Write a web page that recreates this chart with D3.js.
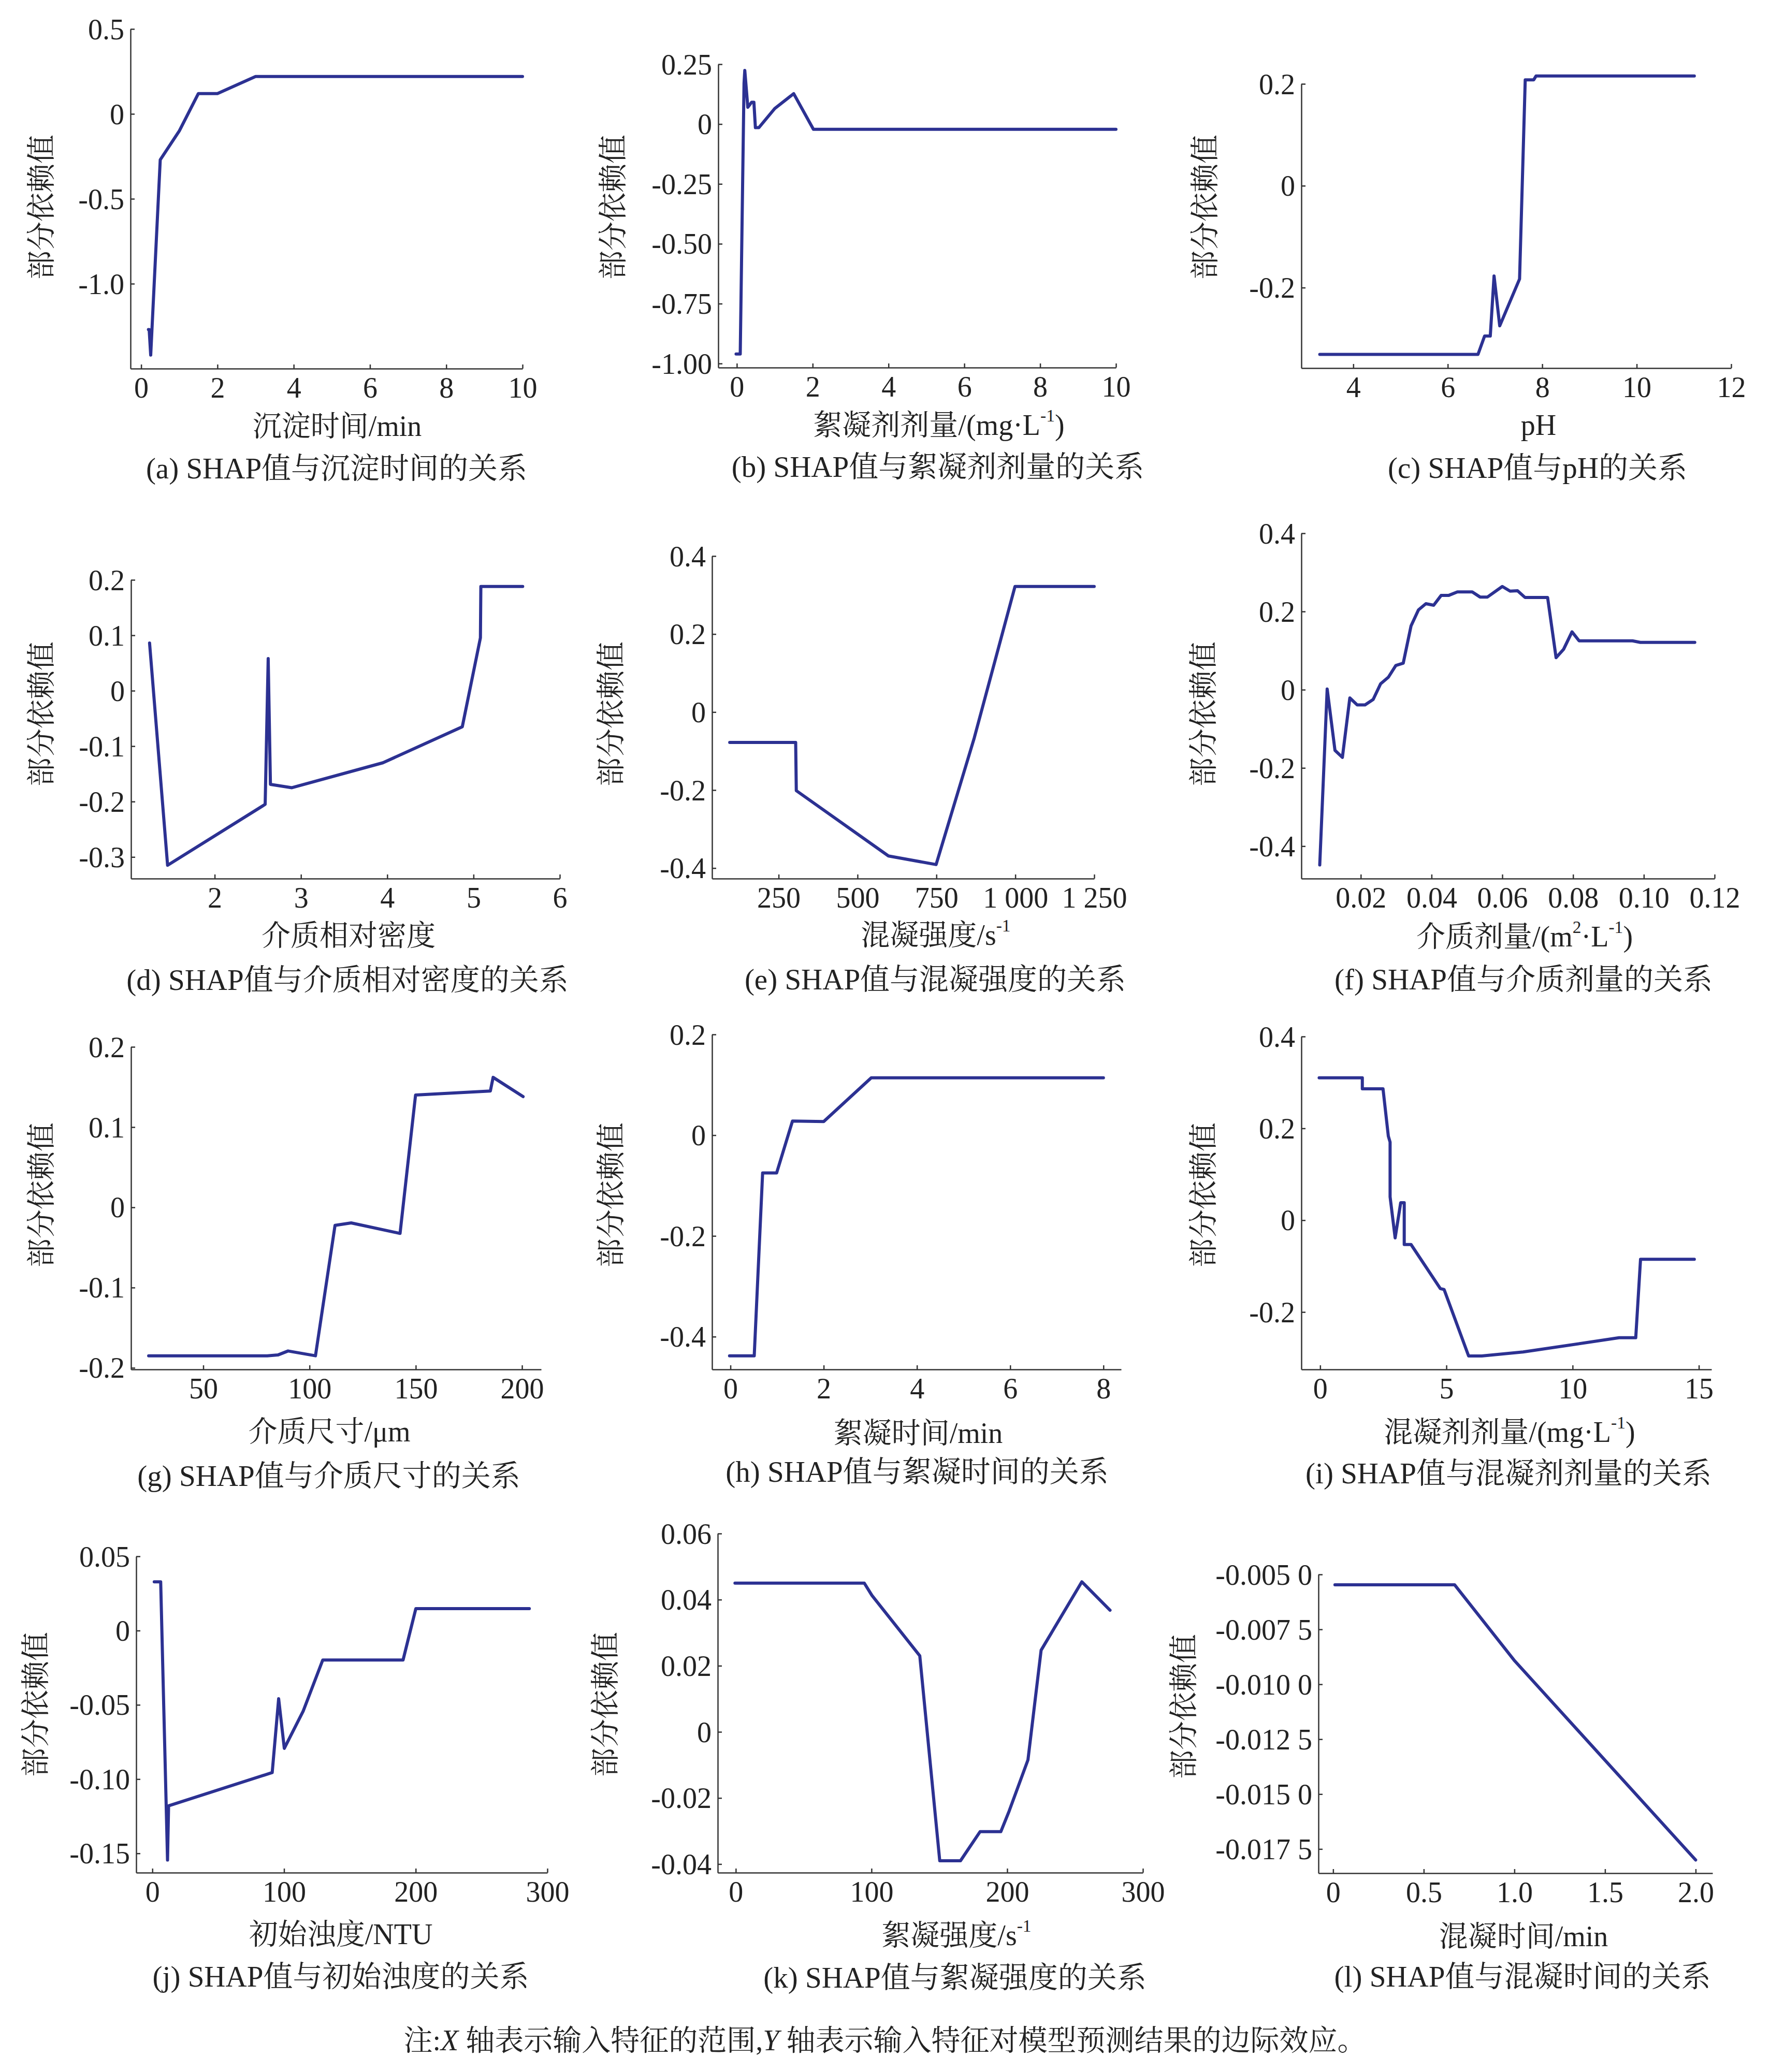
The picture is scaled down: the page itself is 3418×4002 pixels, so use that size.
<!DOCTYPE html>
<html><head><meta charset="utf-8">
<script src="https://cdn.jsdelivr.net/npm/d3@7/dist/d3.min.js"></script>
<style>
html,body{margin:0;padding:0;background:#fff;}
svg text{font-family:"Liberation Serif","Times New Roman","Noto Serif CJK SC","Noto Sans CJK SC",serif;fill:#222;}
</style></head><body>
<svg id="c" width="3418" height="4002"></svg>
<script>
// ---------------- data ----------------
const yLabelText = "部分依赖值";

const xA = [0.19, 0.21, 0.25, 0.5, 1.0, 1.5, 2.0, 3.0, 10];
const yA = [-1.27, -1.27, -1.42, -0.27, -0.10, 0.12, 0.12, 0.22, 0.22];
const xTicksA = [0, 2, 4, 6, 8, 10], xTickLabelsA = ["0","2","4","6","8","10"];
const yTicksA = [0.5, 0, -0.5, -1.0], yTickLabelsA = ["0.5","0","-0.5","-1.0"];

const xB = [-0.02, 0.09, 0.19, 0.21, 0.29, 0.39, 0.45, 0.49, 0.58, 1.0, 1.5, 2.02, 10];
const yB = [-0.96, -0.96, 0.17, 0.224, 0.07, 0.091, 0.091, -0.015, -0.015, 0.065, 0.127, -0.022, -0.022];
const xTicksB = [0, 2, 4, 6, 8, 10], xTickLabelsB = ["0","2","4","6","8","10"];
const yTicksB = [0.25, 0, -0.25, -0.5, -0.75, -1.0], yTickLabelsB = ["0.25","0","-0.25","-0.50","-0.75","-1.00"];

const xC = [3.29, 6.64, 6.78, 6.9, 6.98, 7.1, 7.52, 7.64, 7.82, 7.87, 11.22];
const yC = [-0.331, -0.331, -0.295, -0.295, -0.177, -0.275, -0.183, 0.208, 0.208, 0.2156, 0.2156];
const xTicksC = [4, 6, 8, 10, 12], xTickLabelsC = ["4","6","8","10","12"];
const yTicksC = [0.2, 0, -0.2], yTickLabelsC = ["0.2","0","-0.2"];

const xD = [1.245, 1.454, 2.585, 2.62, 2.646, 2.895, 3.95, 4.87, 5.08, 5.085, 5.57];
const yD = [0.086, -0.315, -0.205, 0.058, -0.169, -0.175, -0.130, -0.065, 0.0955, 0.188, 0.188];
const xTicksD = [2, 3, 4, 5, 6], xTickLabelsD = ["2","3","4","5","6"];
const yTicksD = [0.2, 0.1, 0, -0.1, -0.2, -0.3], yTickLabelsD = ["0.2","0.1","0","-0.1","-0.2","-0.3"];

const xE = [95, 304, 306, 598, 749, 870, 999, 1250];
const yE = [-0.078, -0.078, -0.2015, -0.369, -0.391, -0.066, 0.322, 0.322];
const xTicksE = [250, 500, 750, 1000, 1250], xTickLabelsE = ["250","500","750","1 000","1 250"];
const yTicksE = [0.4, 0.2, 0, -0.2, -0.4], yTickLabelsE = ["0.4","0.2","0","-0.2","-0.4"];

const xF = [0.0084,0.0105,0.0127,0.0148,0.0169,0.019,0.0212,0.0235,0.0256,0.0278,0.0299,0.032,0.0342,0.0363,0.0384,0.0406,0.0427,0.0448,0.0473,0.0515,0.0537,0.0558,0.06,0.0622,0.0643,0.0664,0.0728,0.0752,0.0773,0.0797,0.0817,0.0968,0.099,0.1144];
const yF = [-0.448,0.002,-0.155,-0.173,-0.021,-0.039,-0.039,-0.025,0.015,0.032,0.062,0.068,0.163,0.204,0.220,0.216,0.241,0.241,0.25,0.25,0.237,0.237,0.264,0.252,0.253,0.236,0.236,0.082,0.103,0.148,0.125,0.125,0.121,0.121];
const xTicksF = [0.02, 0.04, 0.06, 0.08, 0.10, 0.12], xTickLabelsF = ["0.02","0.04","0.06","0.08","0.10","0.12"];
const yTicksF = [0.4, 0.2, 0, -0.2, -0.4], yTickLabelsF = ["0.4","0.2","0","-0.2","-0.4"];

const xG = [24.3, 80.1, 85.1, 89.9, 102.8, 112, 119.6, 142.6, 149.9, 185.1, 186.4, 200.5];
const yG = [-0.185, -0.185, -0.184, -0.179, -0.185, -0.0225, -0.0194, -0.0325, 0.140, 0.145, 0.162, 0.138];
const xTicksG = [50, 100, 150, 200], xTickLabelsG = ["50","100","150","200"];
const yTicksG = [0.2, 0.1, 0, -0.1, -0.2], yTickLabelsG = ["0.2","0.1","0","-0.1","-0.2"];

const xH = [-0.02, 0.51, 0.69, 0.99, 1.33, 2.0, 3.02, 8.0];
const yH = [-0.438, -0.438, -0.075, -0.075, 0.028, 0.027, 0.114, 0.114];
const xTicksH = [0, 2, 4, 6, 8], xTickLabelsH = ["0","2","4","6","8"];
const yTicksH = [0.2, 0, -0.2, -0.4], yTickLabelsH = ["0.2","0","-0.2","-0.4"];

const xI = [-0.04,1.67,1.67,2.49,2.7,2.77,2.77,2.97,3.19,3.33,3.33,3.6,4.76,4.91,5.88,6.4,8.04,11.84,12.5,12.69,14.82];
const yI = [0.31,0.31,0.286,0.286,0.183,0.17,0.051,-0.0386,0.038,0.038,-0.053,-0.053,-0.149,-0.151,-0.2956,-0.2956,-0.287,-0.256,-0.256,-0.085,-0.085];
const xTicksI = [0, 5, 10, 15], xTickLabelsI = ["0","5","10","15"];
const yTicksI = [0.4, 0.2, 0, -0.2], yTickLabelsI = ["0.4","0.2","0","-0.2"];

const xJ = [1.4, 6.3, 11.5, 12.3, 91, 95.9, 100.2, 114.5, 129.4, 190.4, 200.1, 286.3];
const yJ = [0.0328, 0.0328, -0.1545, -0.118, -0.0956, -0.0459, -0.0793, -0.0543, -0.0198, -0.0198, 0.0148, 0.0148];
const xTicksJ = [0, 100, 200, 300], xTickLabelsJ = ["0","100","200","300"];
const yTicksJ = [0.05, 0, -0.05, -0.10, -0.15], yTickLabelsJ = ["0.05","0","-0.05","-0.10","-0.15"];

const xK = [-0.6, 94.7, 100.3, 135.6, 150.3, 165.6, 180, 195.3, 201.4, 215.3, 225, 255, 275.8];
const yK = [0.045, 0.045, 0.0413, 0.023, -0.039, -0.039, -0.0302, -0.0302, -0.024, -0.0085, 0.0247, 0.0454, 0.0368];
const xTicksK = [0, 100, 200, 300], xTickLabelsK = ["0","100","200","300"];
const yTicksK = [0.06, 0.04, 0.02, 0, -0.02, -0.04], yTickLabelsK = ["0.06","0.04","0.02","0","-0.02","-0.04"];

const xL = [0.01, 0.67, 0.998, 2.0];
const yL = [-0.00547, -0.00547, -0.0089, -0.0180];
const xTicksL = [0, 0.5, 1.0, 1.5, 2.0], xTickLabelsL = ["0","0.5","1.0","1.5","2.0"];
const yTicksL = [-0.005, -0.0075, -0.01, -0.0125, -0.015, -0.0175], yTickLabelsL = ["-0.005 0","-0.007 5","-0.010 0","-0.012 5","-0.015 0","-0.017 5"];

const xLabels = [
  [["沉淀时间/min"]],
  [["絮凝剂剂量/(mg·L"],["-1",1],[")"]],
  [["pH"]],
  [["介质相对密度"]],
  [["混凝强度/s"],["-1",1]],
  [["介质剂量/(m"],["2",1],["·L"],["-1",1],[")"]],
  [["介质尺寸/μm"]],
  [["絮凝时间/min"]],
  [["混凝剂剂量/(mg·L"],["-1",1],[")"]],
  [["初始浊度/NTU"]],
  [["絮凝强度/s"],["-1",1]],
  [["混凝时间/min"]]
];
const captions = [
  "(a) SHAP值与沉淀时间的关系","(b) SHAP值与絮凝剂剂量的关系","(c) SHAP值与pH的关系",
  "(d) SHAP值与介质相对密度的关系","(e) SHAP值与混凝强度的关系","(f) SHAP值与介质剂量的关系",
  "(g) SHAP值与介质尺寸的关系","(h) SHAP值与絮凝时间的关系","(i) SHAP值与混凝剂剂量的关系",
  "(j) SHAP值与初始浊度的关系","(k) SHAP值与絮凝强度的关系","(l) SHAP值与混凝时间的关系"
];

// ---------------- layout ----------------
// box: [left, right, top, bottom]; lab: [axisLabelX, axisLabelY, captionX, captionY, yLabelX, yLabelY]
const layout = [
  {xs:xA, ys:yA, xt:xTicksA, xtl:xTickLabelsA, yt:yTicksA, ytl:yTickLabelsA, xd:[-0.28,10], yd:[-1.5,0.5], box:[252,1009,56,712], lab:[651,823,650,904,80,400]},
  {xs:xB, ys:yB, xt:xTicksB, xtl:xTickLabelsB, yt:yTicksB, ytl:yTickLabelsB, xd:[-0.49,10], yd:[-1.017,0.25], box:[1387,2155,124,710], lab:[1813,821,1811,901,1184,400]},
  {xs:xC, ys:yC, xt:xTicksC, xtl:xTickLabelsC, yt:yTicksC, ytl:yTickLabelsC, xd:[2.9,12], yd:[-0.358,0.2], box:[2513,3343,162,711], lab:[2971,821,2969,903,2327,400]},
  {xs:xD, ys:yD, xt:xTicksD, xtl:xTickLabelsD, yt:yTicksD, ytl:yTickLabelsD, xd:[1.03,6], yd:[-0.339,0.2], box:[253,1081,1120,1697], lab:[673,1807,671,1892,80,1379]},
  {xs:xE, ys:yE, xt:xTicksE, xtl:xTickLabelsE, yt:yTicksE, ytl:yTickLabelsE, xd:[39,1250], yd:[-0.427,0.4], box:[1375,2113,1074,1697], lab:[1807,1806,1806,1891,1180,1379]},
  {xs:xF, ys:yF, xt:xTicksF, xtl:xTickLabelsF, yt:yTicksF, ytl:yTickLabelsF, xd:[0.0032,0.12], yd:[-0.483,0.4], box:[2513,3311,1030,1697], lab:[2944,1809,2942,1891,2324,1379]},
  {xs:xG, ys:yG, xt:xTicksG, xtl:xTickLabelsG, yt:yTicksG, ytl:yTickLabelsG, xd:[16,209], yd:[-0.202,0.2], box:[253,1045,2022,2645], lab:[636,2765,635,2850,80,2308]},
  {xs:xH, ys:yH, xt:xTicksH, xtl:xTickLabelsH, yt:yTicksH, ytl:yTickLabelsH, xd:[-0.395,8.38], yd:[-0.465,0.2], box:[1375,2165,1998,2645], lab:[1773,2768,1771,2842,1180,2308]},
  {xs:xI, ys:yI, xt:xTicksI, xtl:xTickLabelsI, yt:yTicksI, ytl:yTickLabelsI, xd:[-0.745,15.5], yd:[-0.325,0.4], box:[2513,3305,2002,2645], lab:[2915,2766,2913,2845,2324,2308]},
  {xs:xJ, ys:yJ, xt:xTicksJ, xtl:xTickLabelsJ, yt:yTicksJ, ytl:yTickLabelsJ, xd:[-12.3,300], yd:[-0.163,0.05], box:[263,1057,3006,3617], lab:[658,3736,658,3817,69,3292]},
  {xs:xK, ys:yK, xt:xTicksK, xtl:xTickLabelsK, yt:yTicksK, ytl:yTickLabelsK, xd:[-13.3,300], yd:[-0.0426,0.06], box:[1386,2207,2962,3617], lab:[1847,3738,1844,3819,1169,3292]},
  {xs:xL, ys:yL, xt:xTicksL, xtl:xTickLabelsL, yt:yTicksL, ytl:yTickLabelsL, xd:[-0.081,2.093], yd:[-0.0186,-0.005], box:[2546,3307,3041,3618], lab:[2942,3740,2940,3817,2286,3296]}
];

const FS = 56, LINE = "#2c3192", AX = "#333";
const svg = d3.select("#c");

layout.forEach((p, i) => {
  const g = svg.append("g");
  const x = d3.scaleLinear().domain(p.xd).range([p.box[0], p.box[1]]);
  const y = d3.scaleLinear().domain(p.yd).range([p.box[3], p.box[2]]);

  const gx = g.append("g").attr("transform", `translate(0,${p.box[3]})`)
    .call(d3.axisBottom(x).tickValues(p.xt).tickFormat((d, k) => p.xtl[k]).tickSizeInner(-8).tickSizeOuter(0).tickPadding(0));
  gx.attr("font-size", FS).attr("font-family", null);
  gx.selectAll("text").attr("y", 36).attr("dy", "0.35em");

  const gy = g.append("g").attr("transform", `translate(${p.box[0]},0)`)
    .call(d3.axisLeft(y).tickValues(p.yt).tickFormat((d, k) => p.ytl[k]).tickSizeInner(-8).tickSizeOuter(0).tickPadding(12));
  gy.attr("font-size", FS).attr("font-family", null);
  gy.selectAll("text").attr("dy", "0.34em");

  [gx, gy].forEach(a => {
    a.select(".domain").attr("stroke", AX).attr("stroke-width", 2.5);
    a.selectAll(".tick line").attr("stroke", AX).attr("stroke-width", 2.5);
  });

  const line = d3.line().x(d => x(d[0])).y(d => y(d[1]));
  g.append("path").datum(d3.zip(p.xs, p.ys)).attr("d", line)
    .attr("fill", "none").attr("stroke", LINE).attr("stroke-width", 6)
    .attr("stroke-linejoin", "round").attr("stroke-linecap", "round");

  // x axis label
  const t = g.append("text").attr("x", p.lab[0]).attr("y", p.lab[1]).attr("text-anchor", "middle")
    .attr("dominant-baseline", "central").attr("font-size", FS);
  xLabels[i].forEach(seg => {
    const ts = t.append("tspan").text(seg[0]);
    if (seg[1]) ts.attr("font-size", FS * 0.6).attr("baseline-shift", "super");
  });

  // caption
  g.append("text").attr("x", p.lab[2]).attr("y", p.lab[3]).attr("text-anchor", "middle")
    .attr("dominant-baseline", "central").attr("font-size", 57).text(captions[i]);

  // y label
  g.append("text").attr("transform", `translate(${p.lab[4]},${p.lab[5]}) rotate(-90)`)
    .attr("text-anchor", "middle").attr("dominant-baseline", "central").attr("font-size", FS).text(yLabelText);
});

// footnote
const fn = svg.append("text").attr("x", 1709).attr("y", 3941).attr("text-anchor", "middle")
  .attr("dominant-baseline", "central").attr("font-size", 56);
fn.append("tspan").text("注:");
fn.append("tspan").attr("font-style", "italic").text("X");
fn.append("tspan").text(" 轴表示输入特征的范围,");
fn.append("tspan").attr("font-style", "italic").text("Y");
fn.append("tspan").text(" 轴表示输入特征对模型预测结果的边际效应。");
</script>
</body></html>
